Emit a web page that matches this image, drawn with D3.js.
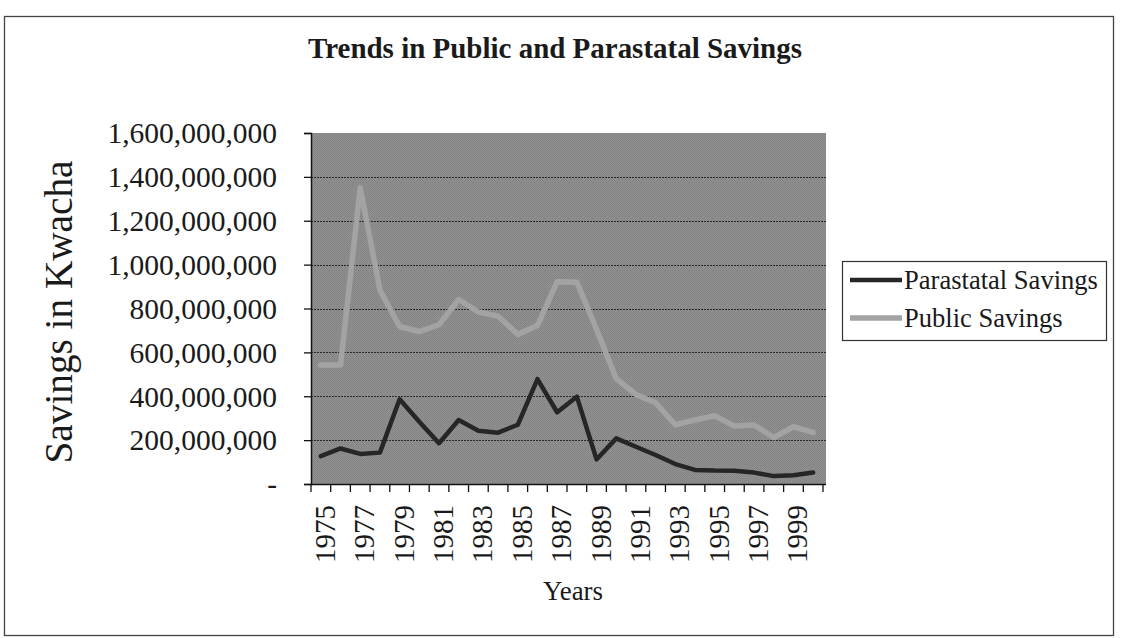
<!DOCTYPE html>
<html><head><meta charset="utf-8">
<script src="https://cdn.jsdelivr.net/npm/d3@7"></script>
<style>
html,body{margin:0;padding:0;background:#fff;}
svg{display:block;}
text{font-family:"Liberation Serif","Times New Roman",serif;fill:#1a1a1a;}
</style></head>
<body>
<svg id="chart" width="1124" height="638"></svg>
<script>
const years = [1975,1976,1977,1978,1979,1980,1981,1982,1983,1984,1985,1986,1987,1988,1989,1990,1991,1992,1993,1994,1995,1996,1997,1998,1999,2000];
const parastatal = [127e6,162e6,137e6,143e6,386e6,284e6,186e6,292e6,243e6,234e6,270e6,478e6,327e6,398e6,112e6,208e6,170e6,132e6,91e6,64e6,61e6,60e6,52e6,36e6,40e6,52e6];
const publicSav = [542e6,542e6,1350e6,884e6,718e6,695e6,726e6,841e6,784e6,765e6,682e6,722e6,922e6,920e6,705e6,480e6,408e6,370e6,270e6,292e6,311e6,264e6,269e6,212e6,261e6,235e6];
const yTicks = [0,2e8,4e8,6e8,8e8,10e8,12e8,14e8,16e8];
const xLabelYears = [1975,1977,1979,1981,1983,1985,1987,1989,1991,1993,1995,1997,1999];
const seriesNames = ["Parastatal Savings","Public Savings"];

const svg = d3.select("#chart");
const P = {left:311, right:823, top:133, bottom:484};

// outer frame
svg.append("rect").attr("x",4.5).attr("y",16.5).attr("width",1109).attr("height",619)
  .attr("fill","#fff").attr("stroke","#444").attr("stroke-width",1.3);

// stipple pattern for plot area
const defs = svg.append("defs");
const pat = defs.append("pattern").attr("id","stip").attr("width",2).attr("height",2).attr("patternUnits","userSpaceOnUse");
pat.append("rect").attr("width",2).attr("height",2).attr("fill","#909090");
pat.append("rect").attr("width",1).attr("height",1).attr("fill","#828282");
pat.append("rect").attr("x",1).attr("y",1).attr("width",1).attr("height",1).attr("fill","#888888");

const x = d3.scaleBand().domain(years).range([P.left,P.right]).paddingInner(0).paddingOuter(0);
const y = d3.scaleLinear().domain([0,16e8]).range([P.bottom,P.top]);

svg.append("rect").attr("x",P.left).attr("y",P.top).attr("width",P.right-P.left+3).attr("height",P.bottom-P.top)
  .attr("fill","url(#stip)");

// gridlines
svg.append("g").selectAll("line").data(yTicks.filter(d=>d>0 && d<16e8)).join("line")
  .attr("x1",P.left).attr("x2",P.right+3).attr("y1",d=>Math.round(y(d))+0.5).attr("y2",d=>Math.round(y(d))+0.5)
  .attr("stroke","#2a2a2a").attr("stroke-width",1.2).attr("stroke-dasharray","2,1");

// y axis
const fmt = d => d===0 ? "-" : d3.format(",")(d);
const yAxis = svg.append("g").attr("transform",`translate(${P.left},0)`)
  .call(d3.axisLeft(y).tickValues(yTicks).tickFormat(fmt).tickSize(7).tickPadding(27));
yAxis.select(".domain").attr("stroke","#111").attr("stroke-width",1.5);
yAxis.selectAll(".tick line").attr("stroke","#111").attr("stroke-width",1.3);
yAxis.selectAll(".tick text").attr("font-family","Liberation Serif, serif").attr("font-size",29.5).attr("fill","#1a1a1a").attr("dy","0.33em");

// x axis
const bAxis = svg.append("g").attr("transform",`translate(0,${P.bottom})`);
bAxis.append("line").attr("x1",P.left).attr("x2",P.right+3).attr("y1",0.5).attr("y2",0.5).attr("stroke","#111").attr("stroke-width",1.5);
const bounds = years.map(d=>x(d)).concat([x(years[years.length-1])+x.bandwidth()]);
bAxis.selectAll("line.tk").data(bounds).join("line").attr("class","tk")
  .attr("x1",d=>d).attr("x2",d=>d).attr("y1",0).attr("y2",8).attr("stroke","#111").attr("stroke-width",1.3);
bAxis.selectAll("text.yl").data(xLabelYears).join("text").attr("class","yl")
  .attr("transform",d=>`translate(${x(d)+x.bandwidth()/2+14},21) rotate(-90)`)
  .attr("text-anchor","end").attr("font-size",29).text(d=>d);

// lines
const line = arr => d3.line().x((d,i)=>x(years[i])+x.bandwidth()/2).y(d=>y(d))(arr);
svg.append("path").attr("d",line(publicSav)).attr("fill","none").attr("stroke","#a3a3a3")
  .attr("stroke-width",5.5).attr("stroke-linejoin","round").attr("stroke-linecap","round");
svg.append("path").attr("d",line(parastatal)).attr("fill","none").attr("stroke","#262626")
  .attr("stroke-width",4.5).attr("stroke-linejoin","round").attr("stroke-linecap","round");

// fit helper
function fit(sel, target){
  const w = sel.node().getComputedTextLength();
  const fs = parseFloat(sel.attr("font-size"));
  sel.attr("font-size", fs*target/w);
}

// title
const title = svg.append("text").attr("x",555).attr("y",58).attr("text-anchor","middle")
  .attr("font-weight","bold").attr("font-size",27).text("Trends in Public and Parastatal Savings");
fit(title, 494);

// axis titles
const yt = svg.append("text").attr("transform","translate(72,312) rotate(-90)").attr("text-anchor","middle")
  .attr("font-size",32).text("Savings in Kwacha");
fit(yt, 303);
const xt = svg.append("text").attr("x",573).attr("y",600).attr("text-anchor","middle").attr("font-size",24).text("Years");
fit(xt, 60);

// legend
const lg = svg.append("g");
lg.append("rect").attr("x",842.5).attr("y",261.5).attr("width",264).attr("height",79).attr("fill","#fff").attr("stroke","#333").attr("stroke-width",1.2);
const lcols = ["#262626","#a3a3a3"];
const lw = [4.5,5.5];
seriesNames.forEach((n,i)=>{
  const yy = 280 + i*38;
  lg.append("line").attr("x1",850).attr("x2",902).attr("y1",yy).attr("y2",yy).attr("stroke",lcols[i]).attr("stroke-width",lw[i]);
  const t = lg.append("text").attr("x",904).attr("y",yy+9).attr("font-size",24).text(n);
  if(i===0) fit(t, 194);
  else t.attr("font-size", lg.select("text").attr("font-size"));
});
</script>
</body></html>
